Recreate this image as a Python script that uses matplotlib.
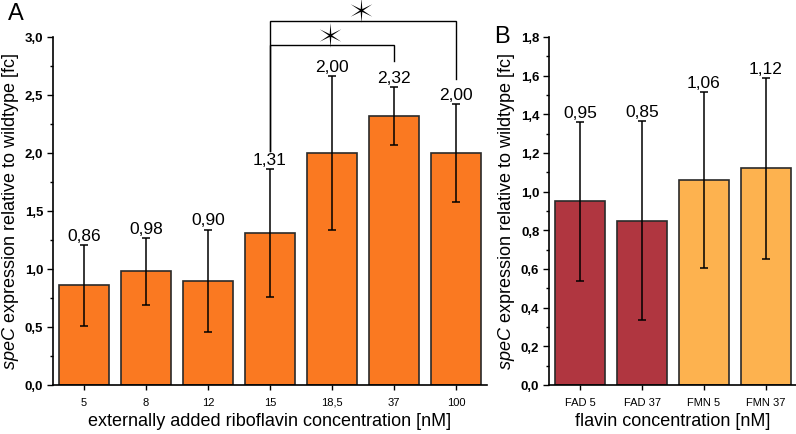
import numpy as np
import matplotlib.pyplot as plt
from matplotlib.path import Path

plt.rcParams['font.family'] = ['Liberation Sans', 'DejaVu Sans']
plt.rcParams['mathtext.fontset'] = 'custom'
plt.rcParams['mathtext.it'] = 'Liberation Sans:italic'
plt.rcParams['mathtext.rm'] = 'Liberation Sans'

# panel A data
conc_labels = ["5", "8", "12", "15", "18,5", "37", "100"]
ribo_vals = [0.86, 0.98, 0.90, 1.31, 2.00, 2.32, 2.00]
ribo_err = [0.35, 0.29, 0.44, 0.55, 0.66, 0.25, 0.42]

# panel B data
flavin_labels = ["FAD 5", "FAD 37", "FMN 5", "FMN 37"]
flavin_vals = [0.95, 0.85, 1.06, 1.12]
flavin_err = [0.41, 0.515, 0.455, 0.47]
flavin_colors = ["#b03640", "#b03640", "#fdb24f", "#fdb24f"]

# significance pairs (index from, index to, bracket level)
sig_pairs = [(3, 5, 2.93), (3, 6, 3.14)]

ylabel = r"$\it{speC}$ expression relative to wildtype [fc]"

# thin six-pointed star marker
ang = np.pi / 2 + np.arange(12) * np.pi / 6
rad = np.where(np.arange(12) % 2 == 0, 1.0, 0.13)
star_verts = np.column_stack([rad * np.cos(ang), rad * np.sin(ang)])
star = Path(np.vstack([star_verts, star_verts[:1]]), closed=True)


def fmt(v):
    return ("%.2f" % v).replace(".", ",")


def style_axes(ax, ymax, step):
    ax.spines['top'].set_visible(False)
    ax.spines['right'].set_visible(False)
    ax.spines['left'].set_linewidth(1.2)
    ax.spines['bottom'].set_linewidth(1.2)
    ax.set_ylim(0, ymax)
    ticks = np.arange(0, ymax + 1e-9, step)
    ax.set_yticks(ticks)
    ax.set_yticklabels([("%.1f" % t).replace(".", ",") for t in ticks],
                       fontweight='bold', fontsize=9.5)
    ax.set_yticks(np.arange(step / 2, ymax, step), minor=True)
    ax.tick_params(axis='y', which='major', length=4, width=1, pad=3)
    ax.tick_params(axis='y', which='minor', length=2.5, width=1)
    ax.tick_params(axis='x', length=3.5, width=1, labelsize=8, pad=5)


def bars(ax, vals, errs, colors):
    x = np.arange(len(vals))
    ax.bar(x, vals, width=0.8, color=colors, edgecolor='#2a2a2a', linewidth=1.2, zorder=2)
    ax.errorbar(x, vals, yerr=errs, fmt='none', ecolor='black', elinewidth=1.1,
                capsize=3.2, capthick=1.1, zorder=3)
    for xi, v, e in zip(x, vals, errs):
        ax.annotate(fmt(v), (xi, v + e), xytext=(0, 1.5), textcoords='offset points',
                    ha='center', va='bottom', fontsize=12.5)
    ax.set_xlim(-0.5, len(vals) - 0.5)
    return x


fig = plt.figure(figsize=(7.96, 4.35), dpi=100)
axA = fig.add_axes([53 / 796, 49 / 435, 434 / 796, 348 / 435])
axB = fig.add_axes([549 / 796, 49 / 435, 248 / 796, 348 / 435])

xA = bars(axA, ribo_vals, ribo_err, "#fa7921")
style_axes(axA, 3.0, 0.5)
axA.set_xticks(xA)
axA.set_xticklabels(conc_labels)
axA.set_xlabel("externally added riboflavin concentration [nM]", fontsize=13, labelpad=4)
axA.set_ylabel(ylabel, fontsize=13, labelpad=3)

# brackets
for i, j, lvl in sig_pairs:
    left_bottom = ribo_vals[i] + ribo_err[i] + 0.16
    right_bottom = ribo_vals[j] + ribo_err[j] + 0.22
    axA.plot([i, i, j, j], [left_bottom, lvl, lvl, right_bottom], color='black',
             lw=1.0, clip_on=False, solid_joinstyle='miter')
    axA.plot([(i + j) / 2 - 0.04], [lvl + 0.09], marker=star, markersize=18, color='black',
             markeredgewidth=0, clip_on=False, linestyle='none')

xB = bars(axB, flavin_vals, flavin_err, flavin_colors)
style_axes(axB, 1.8, 0.2)
axB.set_xticks(xB)
axB.set_xticklabels(flavin_labels)
axB.set_xlabel("flavin concentration [nM]", fontsize=13, labelpad=4)
axB.set_ylabel(ylabel, fontsize=13, labelpad=3)

fig.text(8 / 796, 1 - 3 / 435, "A", fontsize=17, ha='left', va='top')
fig.text(494 / 796, 1 - 26 / 435, "B", fontsize=17, ha='left', va='top')

fig.savefig("out.png", dpi=100)
